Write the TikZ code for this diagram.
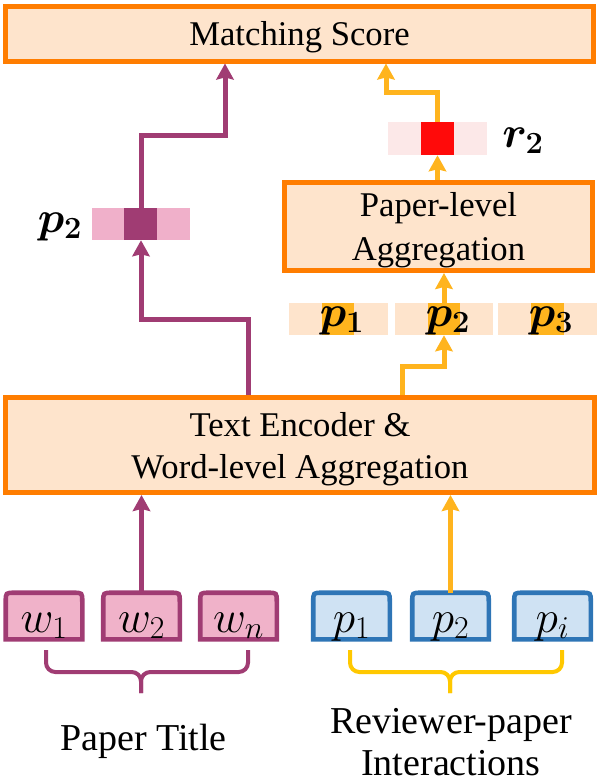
\documentclass[tikz,border=0pt]{standalone}
\usepackage{fix-cm}
\usepackage{amsmath}
\usepackage{fontspec}
\setmainfont{Liberation Serif}
\usepackage{tikz}
\usepackage{xcolor}
\usetikzlibrary{arrows.meta,fit,calc,backgrounds}

\definecolor{boxedge}{RGB}{255,125,0}
\definecolor{boxfill}{RGB}{254,228,204}
\definecolor{purline}{RGB}{160,60,115}
\definecolor{purlight}{RGB}{240,176,202}
\definecolor{wordfill}{RGB}{240,178,201}
\definecolor{amber}{RGB}{255,180,30}
\definecolor{redlight}{RGB}{252,232,232}
\definecolor{redcell}{RGB}{255,10,10}
\definecolor{blueedge}{RGB}{46,117,182}
\definecolor{bluefill}{RGB}{207,226,243}
\definecolor{gold}{RGB}{255,200,0}

\begin{document}
\begin{tikzpicture}[x=0.75pt,y=0.75pt,yscale=-1,xscale=1,
  bigbox/.style={draw=boxedge,fill=boxfill,line width=3.75pt,inner sep=0pt,align=center,text depth=0pt,font=\fontsize{26}{33}\selectfont},
  vecbar/.style={inner sep=0pt,draw=none},
  purarrow/.style={draw=purline,line width=3.75pt,-{Stealth[length=12pt,width=13pt,inset=1.5pt]}},
  oraarrow/.style={draw=amber,line width=3.75pt,-{Stealth[length=12pt,width=13pt,inset=1.5pt]}},
  veclabel/.style={anchor=base,inner sep=0pt,font=\fontsize{33}{38}\selectfont},
  tablabel/.style={inner sep=0pt,minimum width=57pt,minimum height=34.5pt,text height=24pt,text depth=0pt,font=\fontsize{34}{40}\selectfont},
  wordtab/.style={draw=purline,fill=wordfill,line width=3.4pt},
  itemtab/.style={draw=blueedge,fill=bluefill,line width=3.4pt},
  brace/.style={line width=3pt,rounded corners=7pt},
  bottomlabel/.style={inner sep=0pt,align=center,font=\fontsize{28.5}{31.5}\selectfont}
  ]
\path[use as bounding box] (0,0) rectangle (599,783);

%Shape: Rectangle [score]
\node[bigbox,minimum width=441pt,minimum height=41.25pt] (score) at (299.5,33.5) {Matching Score};
%Shape: Rectangle [paper-level]
\node[bigbox,minimum width=231pt,minimum height=66pt] (pagg) at (438.5,226.5) {Paper-level\\Aggregation};
%Shape: Rectangle [encoder]
\node[bigbox,minimum width=441.75pt,minimum height=71.25pt,font=\fontsize{26}{31.5}\selectfont] (tenc) at (300,445) {Text Encoder \&\\Word-level Aggregation};

%Vectors
\node[vecbar,fill=purlight,fit={(92,208) (190,240)}] (pv) {};
\node[vecbar,fill=purline,fit={(124,208) (157,240)}] (pvc) {};
\node[vecbar,fill=redlight,fit={(388,122) (487,155)}] (rv) {};
\node[vecbar,fill=redcell,fit={(421,122) (454,155)}] (rvc) {};
\node[vecbar,fill=boxfill,fit={(289,303) (388,335)}] (v1) {};
\node[vecbar,fill=amber,fit={(322,303) (354,335)}] (v1c) {};
\node[vecbar,fill=boxfill,fit={(395,303) (493,335)}] (v2) {};
\node[vecbar,fill=amber,fit={(428,303) (460,335)}] (v2c) {};
\node[vecbar,fill=boxfill,fit={(498,303) (597,335)}] (v3) {};
\node[vecbar,fill=amber,fit={(531,303) (564,335)}] (v3c) {};

% Text Node
\node[veclabel] (lpv) at (60,232) {$\boldsymbol{p_2}$};
\node[veclabel] (lr) at (523,147) {$\boldsymbol{r_2}$};
\node[veclabel] (lp1) at (342,326) {$\boldsymbol{p_1}$};
\node[veclabel] (lp2) at (448,326) {$\boldsymbol{p_2}$};
\node[veclabel] (lp3) at (551,326) {$\boldsymbol{p_3}$};

%Word and item tabs
\node[tablabel] (w1) at (44,616) {$w_1$};
\node[tablabel] (w2) at (141.5,616) {$w_2$};
\node[tablabel] (wn) at (238.5,616) {$w_n$};
\node[tablabel] (q1) at (351.5,616) {$p_1$};
\node[tablabel] (q2) at (450.5,616) {$p_2$};
\node[tablabel] (qi) at (552.5,616) {$p_i$};

\begin{scope}[on background layer]
\foreach \n/\s in {w1/wordtab,w2/wordtab,wn/wordtab,q1/itemtab,q2/itemtab,qi/itemtab}{
  \filldraw[\s] (\n.south west) -- ($(\n.north west)+(0,9)$) .. controls (\n.north west) .. ($(\n.north west)+(9,0)$)
    -- ($(\n.north east)+(-9,0)$) .. controls (\n.north east) .. ($(\n.north east)+(0,9)$) -- (\n.south east) -- cycle;
}
\end{scope}

%Straight Lines [bends]
\coordinate (pbendlow) at (248,319);
\coordinate (pbendup) at (225,135);
\coordinate (obendlow) at (402,366);
\coordinate (obendup) at (386,92);

\draw[purarrow] (w2.north) -- (w2.north |- tenc.south);
\draw[oraarrow] (q2.north) -- (q2.north |- tenc.south);
\draw[purarrow] (tenc.north -| pbendlow) -- (pbendlow) -| (pv.south);
\draw[purarrow] (pv.north) |- (pbendup) -- (score.south -| pbendup);
\draw[oraarrow] (tenc.north -| obendlow) -- (obendlow) -| (v2.south);
\draw[oraarrow] (v2.north) -- (v2.north |- pagg.south);
\draw[oraarrow] (rv.south |- pagg.north) -- (rv.south);
\draw[oraarrow] (rv.north) |- (obendup) -- (score.south -| obendup);

%Shape: Braces
\draw[brace,purline] (46,650) |- (141,672) -- (141,693);
\draw[brace,purline] (248,650) |- (141,672) -- (141,693);
\draw[brace,gold] (350,650) |- (450,672) -- (450,693);
\draw[brace,gold] (562,650) |- (450,672) -- (450,693);

% Text Node
\node[bottomlabel,anchor=base] (ptitle) at (143.5,750) {Paper Title};
\node[bottomlabel,anchor=north] (rinter) at (451,708) {Reviewer-paper\\Interactions};

\end{tikzpicture}
\end{document}
